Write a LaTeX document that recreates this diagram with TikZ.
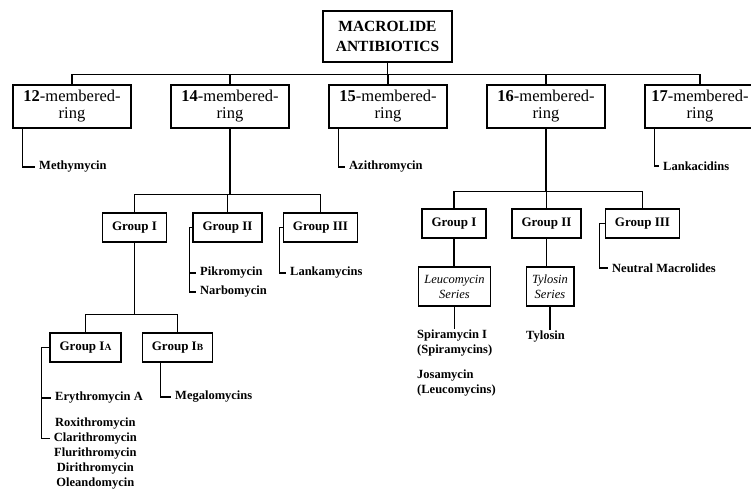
\documentclass[tikz,border=0pt]{standalone}
\usepackage{fontspec}
\setmainfont{Liberation Serif}
\usetikzlibrary{positioning}

\begin{document}
\begin{tikzpicture}[x=1pt,y=1pt,align=center,
titolo/.style={draw,line width=1.6pt,minimum width=129pt,minimum height=51pt,font=\bfseries\fontsize{15.5}{20}\selectfont},
anello/.style={draw,line width=1.3pt,minimum width=118pt,minimum height=43pt,inner sep=0pt,font=\fontsize{16.5}{17}\selectfont},
gruppo/.style={draw,line width=1.3pt,minimum height=29pt,inner xsep=9.5pt,font=\bfseries\fontsize{13}{14}\selectfont},
serie/.style={draw,line width=1.1pt,minimum height=39pt,inner xsep=6pt,font=\itshape\fontsize{12.5}{15}\selectfont},
foglia/.style={anchor=west,inner xsep=4pt,inner ysep=1pt,align=left,font=\bfseries\fontsize{12.5}{15}\selectfont},
ramo/.style={line width=1.2pt}
]
\useasboundingbox (0,0) rectangle (751,490);
\node[titolo] (radice) at (387.5,453.5) {MACROLIDE\\ANTIBIOTICS};
%--
\node[anello] (r12) at (72,383.5) {\textbf{12}-membered-\\ring};
\node[anello] (r14) at (230,383.5) {\textbf{14}-membered-\\ring};
\node[anello] (r15) at (388,383.5) {\textbf{15}-membered-\\ring};
\node[anello] (r16) at (546,383.5) {\textbf{16}-membered-\\ring};
\node[anello,minimum width=110pt] (r17) at (700,383.5) {\textbf{17}-membered-\\ring};
\foreach \r in {r12,r14,r15,r16,r17}
  \draw[ramo] (radice.south) -- ++(0,-12) -| (\r.north);
%--
\node[foglia] (methy) at (35,323) {Methymycin};
\draw[ramo] ([xshift=10pt]r12.south west) |- (methy.west);
\node[foglia] (azi) at (345,323) {Azithromycin};
\draw[ramo] ([xshift=10pt]r15.south west) |- (azi.west);
\node[foglia] (lanka) at (659,324) {Lankacidins};
\draw[ramo] ([xshift=10pt]r17.south west) |- (lanka.west);
%---- 14
\node[gruppo] (g14a) at (134.5,262.5) {Group I};
\node[gruppo] (g14b) at (227.5,262.5) {Group II};
\node[gruppo] (g14c) at (320.5,262.5) {Group III};
\foreach \g in {g14a,g14b,g14c}
  \draw[ramo] (r14.south) -- ++(0,-66) -| (\g.north);
%--
\node[foglia] (pikro) at (196,217) {Pikromycin};
\node[foglia] (narbo) at (196,198) {Narbomycin};
\draw[ramo] (g14b.west) -- ++(-3,0) |- (pikro.west);
\draw[ramo] (g14b.west) -- ++(-3,0) |- (narbo.west);
\node[foglia] (lankam) at (286,217) {Lankamycins};
\draw[ramo] (g14c.west) -- ++(-3,0) |- (lankam.west);
%--
\node[gruppo] (gIA) at (85.5,142.5) {Group I{\fontsize{9.5}{9}\selectfont A}};
\node[gruppo] (gIB) at (177.5,142.5) {Group I{\fontsize{9.5}{9}\selectfont B}};
\foreach \g in {gIA,gIB}
  \draw[ramo] (g14a.south) -- ++(-0,-72) -| (\g.north);
%--
\node[foglia] (ery) at (51,92) {Erythromycin A};
\node[foglia] (roxi) at (51,66) {Roxithromycin};
\node[foglia,below=1pt of roxi] (clari) {Clarithromycin};
\node[foglia,below=1pt of clari] (fluri) {Flurithromycin};
\node[foglia,below=1pt of fluri] (diri) {Dirithromycin};
\node[foglia,below=1pt of diri] (olea) {Oleandomycin};
\draw[ramo] (gIA.west) -- ++(-8,0) |- (ery.west);
\draw[ramo] (gIA.west) -- ++(-8,0) |- (clari.west);
\node[foglia] (mega) at (171,93) {Megalomycins};
\draw[ramo] ([xshift=19pt]gIB.south west) |- (mega.west);
%---- 16
\node[gruppo] (g16a) at (454,266.5) {Group I};
\node[gruppo] (g16b) at (546.5,266.5) {Group II};
\node[gruppo] (g16c) at (642.5,266.5) {Group III};
\foreach \g in {g16a,g16b,g16c}
  \draw[ramo] (r16.south) -- ++(0,-63) -| (\g.north);
%--
\node[serie] (leuco) at (454.5,203.5) {Leucomycin\\Series};
\draw[ramo] (g16a.south) -- (g16a.south |- leuco.north);
\node[serie] (tyl) at (550,203.5) {Tylosin\\Series};
\draw[ramo] (g16b.south) -- (g16b.south |- tyl.north);
%--
\node[foglia] (spira) at (413,146.5) {Spiramycin I\\(Spiramycins)};
\node[foglia] (josa) at (413,106.5) {Josamycin\\(Leucomycins)};
\draw[ramo] (leuco.south) -- (leuco.south |- spira.north);
\node[foglia] (tylosin) at (522,153.5) {Tylosin};
\draw[ramo] (tyl.south) -- (tyl.south |- tylosin.north);
%--
\node[foglia] (neutral) at (608,222) {Neutral Macrolides};
\draw[ramo] (g16c.west) -- ++(-5,0) |- (neutral.west);
\end{tikzpicture}
\end{document}
